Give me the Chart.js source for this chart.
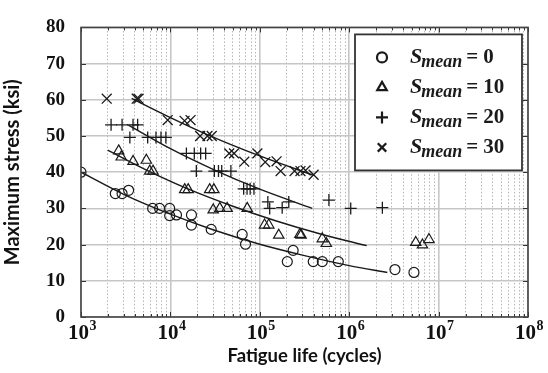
<!DOCTYPE html>
<html><head><meta charset="utf-8">
<script src="https://cdn.jsdelivr.net/npm/chart.js@4/dist/chart.umd.min.js"></script>
<style>html,body{margin:0;padding:0;background:#fff}#wrap{width:548px;height:373px;position:relative}</style>
</head><body><div id="wrap"><canvas id="c"></canvas></div>
<script>
// ---- tick labels ----
const xTickValues = [1e3, 1e4, 1e5, 1e6, 1e7, 1e8];
const xTickBase = '10';
const xTickExponents = ['3', '4', '5', '6', '7', '8'];
const yTickValues = [0, 10, 20, 30, 40, 50, 60, 70, 80];
const legendMeans = ['0', '10', '20', '30'];

// ---- data: S_mean = 0 (circles) ----
const life0 = [1000, 2420, 2880, 3410, 6330, 7570, 9820, 9820, 11700, 17200, 17200, 28600, 63500, 69200, 236000, 203000, 396000, 500000, 755000, 3250000, 5300000];
const stress0 = [40, 34.1, 34.1, 35.0, 30.0, 30.0, 30.0, 28.0, 28.2, 28.2, 25.4, 24.2, 22.8, 20.1, 18.4, 15.3, 15.3, 15.3, 15.3, 13.1, 12.3];
// ---- S_mean = 10 (triangles) ----
const life10 = [2640, 2820, 3820, 5380, 5870, 6390, 14450, 15800, 27500, 30600, 30100, 35700, 43100, 72300, 113000, 126000, 163000, 281000, 290000, 500000, 555000, 5550000, 6600000, 7800000];
const stress10 = [45.9, 44.2, 43.0, 43.3, 40.3, 40.3, 35.2, 35.2, 35.2, 35.2, 29.6, 30.0, 30.0, 30.0, 25.4, 25.4, 22.6, 22.8, 22.6, 21.6, 20.3, 20.6, 19.9, 21.4];
// ---- S_mean = 20 (plus) ----
const life20 = [2170, 2880, 3820, 4300, 3520, 5570, 6900, 7850, 8900, 15100, 18500, 21800, 24800, 19500, 31000, 34500, 37500, 47500, 66000, 72000, 78000, 86000, 123000, 129000, 178000, 211000, 593000, 1040000, 2350000];
const stress20 = [53.1, 53.1, 53.1, 53.1, 49.6, 49.6, 49.6, 49.6, 49.6, 45.2, 45.2, 45.2, 45.2, 40.3, 40.3, 40.3, 40.3, 40.3, 35.4, 35.4, 35.4, 35.4, 31.8, 30.0, 30.2, 31.8, 32.3, 30.0, 30.2];
// ---- S_mean = 30 (x) ----
const life30 = [1940, 4200, 4400, 9330, 14400, 16800, 21500, 26000, 29000, 45500, 51500, 67000, 94000, 115000, 154000, 171000, 245000, 285000, 325000, 400000];
const stress30 = [60.3, 60.3, 60.3, 54.4, 54.2, 54.4, 50.0, 50.0, 50.0, 45.2, 45.2, 42.9, 45.2, 42.8, 43.0, 40.3, 40.3, 40.3, 40.5, 39.3];

// ---- fitted curves ----
const fitLife0 = [1000, 3000, 10000, 30000, 100000, 300000, 1000000, 2670000];
const fitStress0 = [40, 33.9, 28.4, 24.1, 20.1, 17.1, 14.2, 12.3];
const fitLife10 = [1990, 5000, 15000, 50000, 150000, 500000, 1570000];
const fitStress10 = [46.1, 41.0, 35.6, 30.6, 26.6, 22.8, 19.7];
const fitLife20 = [3390, 10000, 30000, 100000, 386000];
const fitStress20 = [53.0, 46.5, 40.8, 35.3, 30.0];
const fitLife30 = [3690, 10000, 30000, 100000, 403000];
const fitStress30 = [60.4, 55.1, 49.7, 44.5, 39.1];

const pts = (xs, ys) => xs.map((x, i) => ({x: x, y: ys[i]}));

// all x grid positions (decades and 2..9 multiples)
const xGrid = [];
for (let d = 0; d < xTickValues.length; d++) {
  const base = xTickValues[d];
  xGrid.push(base);
  if (d < xTickValues.length - 1) for (let m = 2; m <= 9; m++) xGrid.push(base * m);
}
const isDecade = v => xTickValues.indexOf(v) >= 0;

const INK = '#1a1a1a';
const markerSets = [
  {style: 'circle', r: 5, lw: 1.2},
  {style: 'triangle', r: 6, lw: 1.2},
  {style: 'cross', r: 6, lw: 1.3},
  {style: 'crossRot', r: 7, lw: 1.3}
];
const series = [pts(life0, stress0), pts(life10, stress10), pts(life20, stress20), pts(life30, stress30)];
const fits = [pts(fitLife0, fitStress0), pts(fitLife10, fitStress10), pts(fitLife20, fitStress20), pts(fitLife30, fitStress30)];

const datasets = [];
fits.forEach(f => datasets.push({
  type: 'line', data: f, showLine: true, borderColor: INK, borderWidth: 1.4,
  pointRadius: 0, cubicInterpolationMode: 'monotone', fill: false
}));
series.forEach((s, i) => datasets.push({
  type: 'scatter', data: s, pointStyle: markerSets[i].style, pointRadius: markerSets[i].r,
  pointBorderWidth: markerSets[i].lw, pointBorderColor: INK, pointBackgroundColor: 'rgba(0,0,0,0)',
  showLine: false
}));

const framePlugin = {
  id: 'frame',
  afterDatasetsDraw(chart) {
    const {ctx, chartArea: a, scales: {x, y}} = chart;
    ctx.save();
    // inner tick marks
    ctx.strokeStyle = '#333';
    ctx.lineWidth = 1;
    xGrid.forEach(v => {
      const px = Math.round(x.getPixelForValue(v)) + 0.5;
      const len = isDecade(v) ? 5 : 3;
      ctx.beginPath();
      ctx.moveTo(px, a.bottom); ctx.lineTo(px, a.bottom - len);
      ctx.moveTo(px, a.top); ctx.lineTo(px, a.top + len);
      ctx.stroke();
    });
    yTickValues.forEach(v => {
      const py = Math.round(y.getPixelForValue(v)) + 0.5;
      ctx.beginPath();
      ctx.moveTo(a.left, py); ctx.lineTo(a.left + 5, py);
      ctx.moveTo(a.right, py); ctx.lineTo(a.right - 5, py);
      ctx.stroke();
    });
    // frame
    ctx.strokeStyle = '#444';
    ctx.lineWidth = 1.6;
    ctx.strokeRect(a.left, a.top, a.right - a.left, a.bottom - a.top);

    // x tick labels: 10 with raised exponent
    ctx.fillStyle = '#111';
    ctx.textBaseline = 'alphabetic';
    ctx.textAlign = 'left';
    xTickValues.forEach((v, i) => {
      const px = x.getPixelForValue(v);
      ctx.font = 'bold 21px "Liberation Serif"';
      const w1 = ctx.measureText(xTickBase).width;
      ctx.font = 'bold 14px "Liberation Serif"';
      const w2 = ctx.measureText(xTickExponents[i]).width;
      const sx = px - (w1 + w2) / 2 + 1;
      ctx.font = 'bold 21px "Liberation Serif"';
      ctx.fillText(xTickBase, sx, a.bottom + 22);
      ctx.font = 'bold 14px "Liberation Serif"';
      ctx.fillText(xTickExponents[i], sx + w1 + 0.5, a.bottom + 13);
    });

    // legend
    const bx = a.right - 173, by = a.top + 7, bw = 167, bh = 136;
    ctx.fillStyle = '#fff';
    ctx.fillRect(bx, by, bw, bh);
    ctx.strokeStyle = '#333';
    ctx.lineWidth = 1.8;
    ctx.strokeRect(bx, by, bw, bh);
    legendMeans.forEach((m, i) => {
      const cy = by + 23 + i * 30;
      const mk = markerSets[i];
      ctx.strokeStyle = INK;
      ctx.fillStyle = 'rgba(0,0,0,0)';
      ctx.lineWidth = 2.2;
      Chart.helpers.drawPoint(ctx, {pointStyle: mk.style, radius: mk.style === 'circle' ? 5 : (mk.style === 'triangle' ? 5.5 : 6), rotation: 0, borderWidth: 2.2}, bx + 27, cy);
      ctx.fillStyle = INK;
      let tx = bx + 55;
      const base = cy + 6;
      ctx.font = 'italic bold 22px "Liberation Serif"';
      ctx.fillText('S', tx, base);
      tx += ctx.measureText('S').width - 1;
      ctx.font = 'italic bold 18px "Liberation Serif"';
      ctx.fillText('mean', tx, base + 4);
      tx += ctx.measureText('mean').width + 4;
      ctx.font = 'bold 21px "Liberation Serif"';
      ctx.fillText('=', tx, base);
      tx += ctx.measureText('=').width + 5;
      ctx.fillText(m, tx, base);
    });
    ctx.restore();
  }
};

new Chart(document.getElementById('c'), {
  data: {datasets: datasets},
  plugins: [framePlugin],
  options: {
    responsive: true, maintainAspectRatio: false, animation: false,
    layout: {padding: {top: 12, right: 20, left: 0, bottom: 0}},
    plugins: {legend: {display: false}, tooltip: {enabled: false}},
    scales: {
      x: {
        type: 'logarithmic', min: 1e3, max: 1e8,
        afterBuildTicks: s => { s.ticks = xGrid.map(v => ({value: v, major: isDecade(v)})); },
        afterFit: s => { s.height = 56; },
        ticks: {display: false, autoSkip: false},
        grid: {
          drawTicks: false,
          color: c => (c.tick && isDecade(c.tick.value)) ? '#c6c6c6' : '#b5b5b5',
          lineWidth: c => (c.tick && isDecade(c.tick.value)) ? 1.6 : 1
        },
        border: {display: false, dash: c => (c.tick && !isDecade(c.tick.value)) ? [1.5, 2] : []},
        title: {display: true, text: 'Fatigue life (cycles)', color: '#111',
          font: {family: 'Lato', weight: 'bold', size: 18.5}, padding: {top: 0, bottom: 6}}
      },
      y: {
        min: 0, max: 80,
        afterBuildTicks: s => { s.ticks = yTickValues.map(v => ({value: v})); },
        afterFit: s => { s.width = 81; },
        ticks: {padding: 16, color: '#111', font: {family: 'Liberation Serif', weight: 'bold', size: 19}},
        grid: {drawTicks: false, color: '#c6c6c6', lineWidth: 1.6},
        border: {display: false},
        title: {display: true, text: 'Maximum stress (ksi)', color: '#111',
          font: {family: 'Lato', weight: 'bold', size: 20}, padding: {top: 1, bottom: 0}}
      }
    }
  }
});
</script></body></html>
